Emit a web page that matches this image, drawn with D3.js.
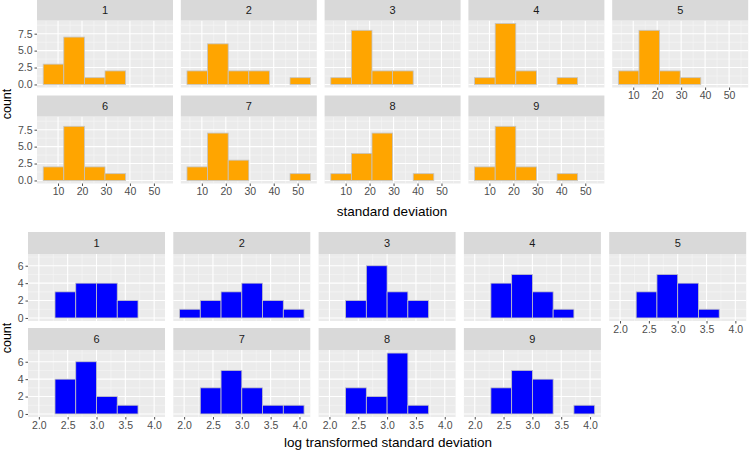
<!DOCTYPE html>
<html>
<head>
<meta charset="utf-8">
<script src="https://cdn.jsdelivr.net/npm/d3@7"></script>
<style>
  html, body { margin: 0; padding: 0; background: #fff; }
  svg { display: block; font-family: "Liberation Sans", Arial, sans-serif; }
</style>
</head>
<body>
<svg id="chart" width="750" height="455"></svg>
<script>
// ---------------- data ----------------
const panelLabels = ["1", "2", "3", "4", "5", "6", "7", "8", "9"];

// histogram counts of standard deviation (6 bins) per panel
const sdCounts1 = [3, 7, 1, 2, 0, 0];
const sdCounts2 = [2, 6, 2, 2, 0, 1];
const sdCounts3 = [1, 8, 2, 2, 0, 0];
const sdCounts4 = [1, 9, 2, 0, 1, 0];
const sdCounts5 = [2, 8, 2, 1, 0, 0];
const sdCounts6 = [2, 8, 2, 1, 0, 0];
const sdCounts7 = [2, 7, 3, 0, 0, 1];
const sdCounts8 = [1, 4, 7, 0, 1, 0];
const sdCounts9 = [2, 8, 2, 0, 1, 0];
const sdBreaks = [3.8, 12.4, 21.0, 29.6, 38.2, 46.8, 55.4];
const sdTicks = [10, 20, 30, 40, 50];
const sdCountTicks = [0, 2.5, 5, 7.5];

// histogram counts of log transformed standard deviation (6 bins) per panel
const logCounts1 = [0, 3, 4, 4, 2, 0];
const logCounts2 = [1, 2, 3, 4, 2, 1];
const logCounts3 = [0, 2, 6, 3, 2, 0];
const logCounts4 = [0, 4, 5, 3, 1, 0];
const logCounts5 = [0, 3, 5, 4, 1, 0];
const logCounts6 = [0, 4, 6, 2, 1, 0];
const logCounts7 = [0, 3, 5, 3, 1, 1];
const logCounts8 = [0, 3, 2, 7, 1, 0];
const logCounts9 = [0, 3, 5, 4, 0, 1];
const logBreaks = [1.92, 2.28, 2.64, 3.00, 3.36, 3.72, 4.08];
const logTicks = [2.0, 2.5, 3.0, 3.5, 4.0];
const logCountTicks = [0, 2, 4, 6];

// ---------------- drawing ----------------
const svg = d3.select("#chart");

function drawFacets(cfg) {
  const g = svg.append("g");
  const lo = cfg.breaks[0], hi = cfg.breaks[cfg.breaks.length - 1];
  const pad = (hi - lo) * 0.05;
  const x = d3.scaleLinear().domain([lo - pad, hi + pad]).range([0, cfg.panelW]);
  const ymax = d3.max(cfg.counts, c => d3.max(c));
  const y = d3.scaleLinear().domain([-ymax * 0.05, ymax * 1.05]).range([cfg.panelH, 0]);

  // minor breaks: midpoints between major ticks (and one step beyond each end)
  function minors(ticks, domain) {
    const step = ticks[1] - ticks[0];
    const out = [];
    for (let v = ticks[0] - step / 2; v <= ticks[ticks.length - 1] + step / 2 + 1e-9; v += step) {
      if (v >= domain[0] && v <= domain[1]) out.push(v);
    }
    return out;
  }
  const xMinor = minors(cfg.xTicks, x.domain());
  const yMinor = minors(cfg.yTicks, y.domain());

  cfg.counts.forEach((counts, i) => {
    const col = i % 5, row = Math.floor(i / 5);
    const px = cfg.left + col * cfg.stepX;
    const stripTop = cfg.rowTops[row];
    const py = stripTop + cfg.stripH;
    const p = g.append("g").attr("transform", `translate(${px},${py})`);

    // strip
    g.append("rect").attr("x", px).attr("y", stripTop)
      .attr("width", cfg.panelW).attr("height", cfg.stripH).attr("fill", "#D9D9D9");
    g.append("text").attr("x", px + cfg.panelW / 2).attr("y", stripTop + cfg.stripH / 2)
      .attr("dy", "0.35em").attr("text-anchor", "middle")
      .attr("font-size", 11).attr("fill", "#1A1A1A").text(panelLabels[i]);

    // panel background
    p.append("rect").attr("width", cfg.panelW).attr("height", cfg.panelH).attr("fill", "#EBEBEB");

    // grid
    p.selectAll(".xmin").data(xMinor).enter().append("line")
      .attr("x1", d => x(d)).attr("x2", d => x(d)).attr("y1", 0).attr("y2", cfg.panelH)
      .attr("stroke", "#F7F7F7").attr("stroke-width", 0.6);
    p.selectAll(".ymin").data(yMinor).enter().append("line")
      .attr("y1", d => y(d)).attr("y2", d => y(d)).attr("x1", 0).attr("x2", cfg.panelW)
      .attr("stroke", "#F7F7F7").attr("stroke-width", 0.6);
    p.selectAll(".xmaj").data(cfg.xTicks).enter().append("line")
      .attr("x1", d => x(d)).attr("x2", d => x(d)).attr("y1", 0).attr("y2", cfg.panelH)
      .attr("stroke", "#FFFFFF").attr("stroke-width", 1.1);
    p.selectAll(".ymaj").data(cfg.yTicks).enter().append("line")
      .attr("y1", d => y(d)).attr("y2", d => y(d)).attr("x1", 0).attr("x2", cfg.panelW)
      .attr("stroke", "#FFFFFF").attr("stroke-width", 1.1);

    // bars
    const bins = counts.map((c, k) => ({ x0: cfg.breaks[k], x1: cfg.breaks[k + 1], n: c }));
    p.selectAll(".bar").data(bins).enter().append("rect")
      .attr("x", d => x(d.x0)).attr("width", d => x(d.x1) - x(d.x0))
      .attr("y", d => y(d.n)).attr("height", d => y(0) - y(d.n))
      .attr("fill", cfg.fill).attr("stroke", cfg.stroke).attr("stroke-width", 0.8);

    // y axis (first column only)
    if (col === 0) {
      const ax = d3.axisLeft(y).tickValues(cfg.yTicks).tickFormat(cfg.yFmt).tickSize(2.5).tickPadding(2);
      const a = p.append("g").call(ax);
      a.select(".domain").remove();
      a.selectAll("line").attr("stroke", "#4D4D4D");
      a.selectAll("text").attr("font-size", 10.5).attr("fill", "#4D4D4D").attr("font-family", "Liberation Sans, Arial, sans-serif");
    }
    // x axis (bottom row, or panel with nothing below)
    const hasBelow = (i + 5) < cfg.counts.length;
    if (!hasBelow) {
      const ax = d3.axisBottom(x).tickValues(cfg.xTicks).tickFormat(cfg.xFmt).tickSize(2.5).tickPadding(2);
      const a = p.append("g").attr("transform", `translate(0,${cfg.panelH})`).call(ax);
      a.select(".domain").remove();
      a.selectAll("line").attr("stroke", "#4D4D4D");
      a.selectAll("text").attr("font-size", 10.5).attr("fill", "#4D4D4D").attr("font-family", "Liberation Sans, Arial, sans-serif");
    }
  });

  // axis titles
  g.append("text").attr("x", cfg.xTitleX).attr("y", cfg.xTitleY)
    .attr("text-anchor", "middle").attr("font-size", 13.5).attr("fill", "#000").text(cfg.xTitle);
  g.append("text").attr("transform", `translate(${cfg.yTitleX},${cfg.yTitleY}) rotate(-90)`)
    .attr("text-anchor", "middle").attr("dy", "0.35em").attr("font-size", 12.5).attr("fill", "#000").text("count");
}

drawFacets({
  counts: [sdCounts1, sdCounts2, sdCounts3, sdCounts4, sdCounts5, sdCounts6, sdCounts7, sdCounts8, sdCounts9],
  breaks: sdBreaks, xTicks: sdTicks, yTicks: sdCountTicks,
  xFmt: d3.format("d"), yFmt: d3.format(".1f"),
  fill: "#FFA500", stroke: "#C4C4C4",
  left: 37, stepX: 143.8, panelW: 136, panelH: 67, stripH: 21,
  rowTops: [-0.5, 95.5],
  xTitle: "standard deviation", xTitleX: 392, xTitleY: 216,
  yTitleX: 7, yTitleY: 104
});

drawFacets({
  counts: [logCounts1, logCounts2, logCounts3, logCounts4, logCounts5, logCounts6, logCounts7, logCounts8, logCounts9],
  breaks: logBreaks, xTicks: logTicks, yTicks: logCountTicks,
  xFmt: d3.format(".1f"), yFmt: d3.format("d"),
  fill: "#0000FF", stroke: "#C4C4C4",
  left: 28, stepX: 145.3, panelW: 137, panelH: 67, stripH: 22,
  rowTops: [232, 328],
  xTitle: "log transformed standard deviation", xTitleX: 388, xTitleY: 447,
  yTitleX: 7, yTitleY: 338
});
</script>
</body>
</html>
